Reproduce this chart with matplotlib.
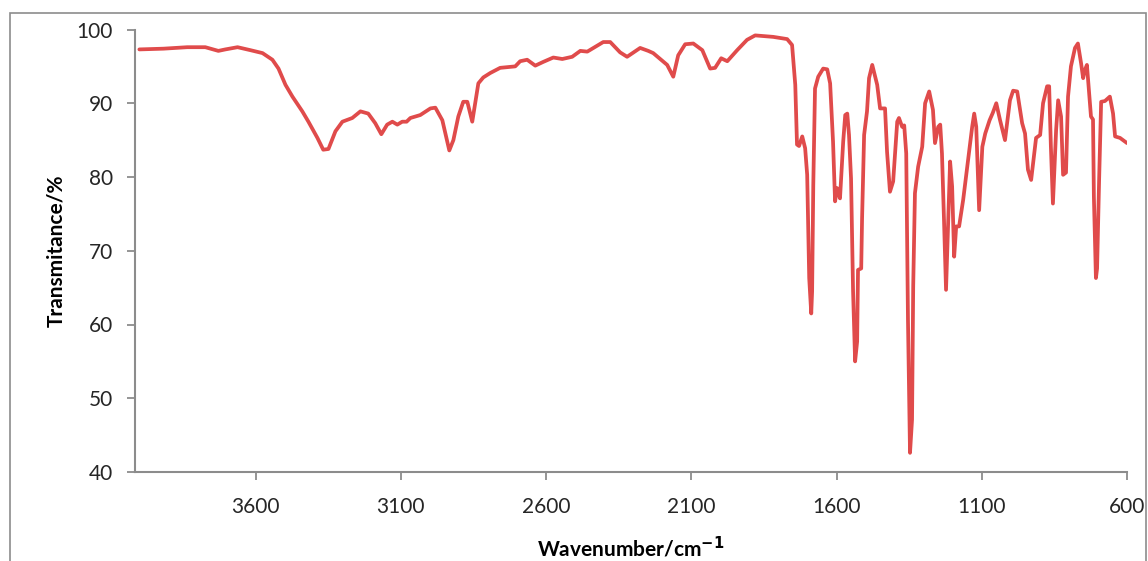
import matplotlib
matplotlib.use("Agg")
import matplotlib.pyplot as plt
from matplotlib.patches import Rectangle

wavenumber = [
    4000, 3917, 3835, 3773, 3728, 3704, 3662, 3618, 3576, 3542, 3521, 3497, 3473,
    3439, 3418, 3387, 3367, 3349, 3325, 3301, 3267, 3239, 3212, 3188, 3167, 3147,
    3129, 3112, 3095, 3080, 3067, 3033, 2998, 2981, 2957, 2947, 2933, 2919, 2902,
    2885, 2871, 2854, 2833, 2816, 2792, 2758, 2706, 2689, 2665, 2637, 2610, 2575,
    2544, 2510, 2482, 2458, 2437, 2403, 2379, 2345, 2321, 2276, 2248, 2231, 2183,
    2162, 2145, 2121, 2093, 2062, 2035, 2018, 1997, 1976, 1942, 1908, 1880, 1818,
    1770, 1753, 1742, 1736, 1729, 1718, 1708, 1701, 1694, 1687, 1684, 1680, 1674,
    1663, 1646, 1632, 1622, 1612, 1605, 1598, 1588, 1577, 1570, 1563, 1557, 1550,
    1543, 1536, 1529, 1526, 1515, 1512, 1505, 1495, 1488, 1477, 1460, 1450, 1433,
    1426, 1416, 1405, 1391, 1385, 1374, 1367, 1360, 1354, 1347, 1340, 1336, 1330,
    1319, 1305, 1295, 1281, 1268, 1261, 1250, 1243, 1237, 1230, 1223, 1216, 1209,
    1202, 1195, 1188, 1178, 1164, 1147, 1133, 1126, 1119, 1109, 1098, 1088, 1073,
    1062, 1050, 1037, 1020, 1003, 992, 978, 961, 951, 941, 930, 923, 913, 899, 889,
    875, 868, 862, 855, 844, 837, 827, 820, 810, 803, 793, 779, 769, 758, 751, 745,
    738, 734, 724, 717, 714, 707, 703, 696, 689, 676, 659, 648, 641, 624, 600,
]
transmittance = [
    97.3, 97.4, 97.6, 97.6, 97.1, 97.3, 97.6, 97.2, 96.8, 95.9, 94.7, 92.5, 90.9,
    88.9, 87.5, 85.3, 83.7, 83.8, 86.2, 87.5, 88.0, 88.9, 88.6, 87.3, 85.8, 87.1,
    87.5, 87.1, 87.5, 87.5, 88.0, 88.4, 89.3, 89.4, 87.7, 86.0, 83.6, 85.0, 88.2,
    90.2, 90.2, 87.5, 92.7, 93.5, 94.1, 94.8, 95.0, 95.7, 95.9, 95.1, 95.6, 96.2,
    96.0, 96.3, 97.1, 97.0, 97.5, 98.3, 98.3, 96.9, 96.3, 97.5, 97.1, 96.8, 95.2,
    93.6, 96.5, 98.0, 98.1, 97.2, 94.7, 94.8, 96.1, 95.7, 97.2, 98.6, 99.2, 99.0,
    98.7, 97.9, 92.5, 84.4, 84.2, 85.5, 83.9, 80.3, 66.3, 61.5, 64.5, 78.9, 92.0,
    93.6, 94.7, 94.6, 92.7, 84.8, 76.7, 78.5, 77.1, 84.8, 88.4, 88.6, 85.7, 79.8,
    64.5, 55.0, 57.7, 67.4, 67.6, 74.4, 85.7, 88.9, 93.4, 95.2, 92.5, 89.3, 89.3,
    83.4, 78.0, 79.4, 87.5, 88.0, 86.8, 87.0, 83.2, 60.6, 42.6, 47.1, 65.2, 77.8,
    81.4, 84.1, 90.0, 91.6, 89.1, 84.6, 86.8, 87.1, 83.2, 74.2, 64.7, 73.3, 82.1,
    78.7, 69.2, 73.3, 73.3, 76.9, 82.3, 86.8, 88.6, 86.8, 75.5, 84.1, 85.9, 87.7,
    88.7, 90.0, 87.7, 85.0, 90.4, 91.7, 91.6, 87.3, 85.9, 81.0, 79.6, 81.9, 85.3,
    85.7, 90.0, 92.3, 92.3, 84.1, 76.4, 86.4, 90.4, 88.2, 80.3, 80.6, 90.9, 95.0,
    97.5, 98.1, 95.4, 93.4, 94.5, 95.2, 93.2, 88.2, 87.8, 77.3, 66.3, 67.6, 79.6,
    90.2, 90.3, 90.9, 88.6, 85.5, 85.3, 84.6,
]
x_ticks = [3600, 3100, 2600, 2100, 1600, 1100, 600]
y_ticks = [40, 50, 60, 70, 80, 90, 100]

plt.rcParams['font.family'] = ['Lato', 'DejaVu Sans']

fig = plt.figure(figsize=(11.48, 5.61), dpi=100)
ax = fig.add_axes([135/1148, 1-472/561, (1127-135)/1148, (472-29.5)/561])

ax.plot(wavenumber, transmittance, color='#E04B4B', lw=2.7,
        solid_joinstyle='round', solid_capstyle='round')
ax.set_xlim(4015, 600)
ax.set_ylim(40, 100)
ax.set_xticks(x_ticks)
ax.set_yticks(y_ticks)

for s in ['top', 'right']:
    ax.spines[s].set_visible(False)
for s in ['left', 'bottom']:
    ax.spines[s].set_color('#8c8c8c')
    ax.spines[s].set_linewidth(1.5)
ax.tick_params(axis='both', colors='#8c8c8c', labelcolor='#262626', labelsize=15,
               width=1.3, length=6, direction='out')
ax.tick_params(axis='y', pad=10)
ax.tick_params(axis='x', pad=12)

ax.set_xlabel('Wavenumber/cm$^{\\mathbf{-1}}$', fontsize=15, fontweight='bold', labelpad=13)
ax.set_ylabel('Transmitance/%', fontsize=15, fontweight='bold', labelpad=7)

fig.patches.append(Rectangle((10/1148, -0.05), (1146-10)/1148, 1.05 - 13/561,
                             transform=fig.transFigure, fill=False,
                             edgecolor='#8c8c8c', lw=1.2))

fig.savefig('out.png', dpi=100)
